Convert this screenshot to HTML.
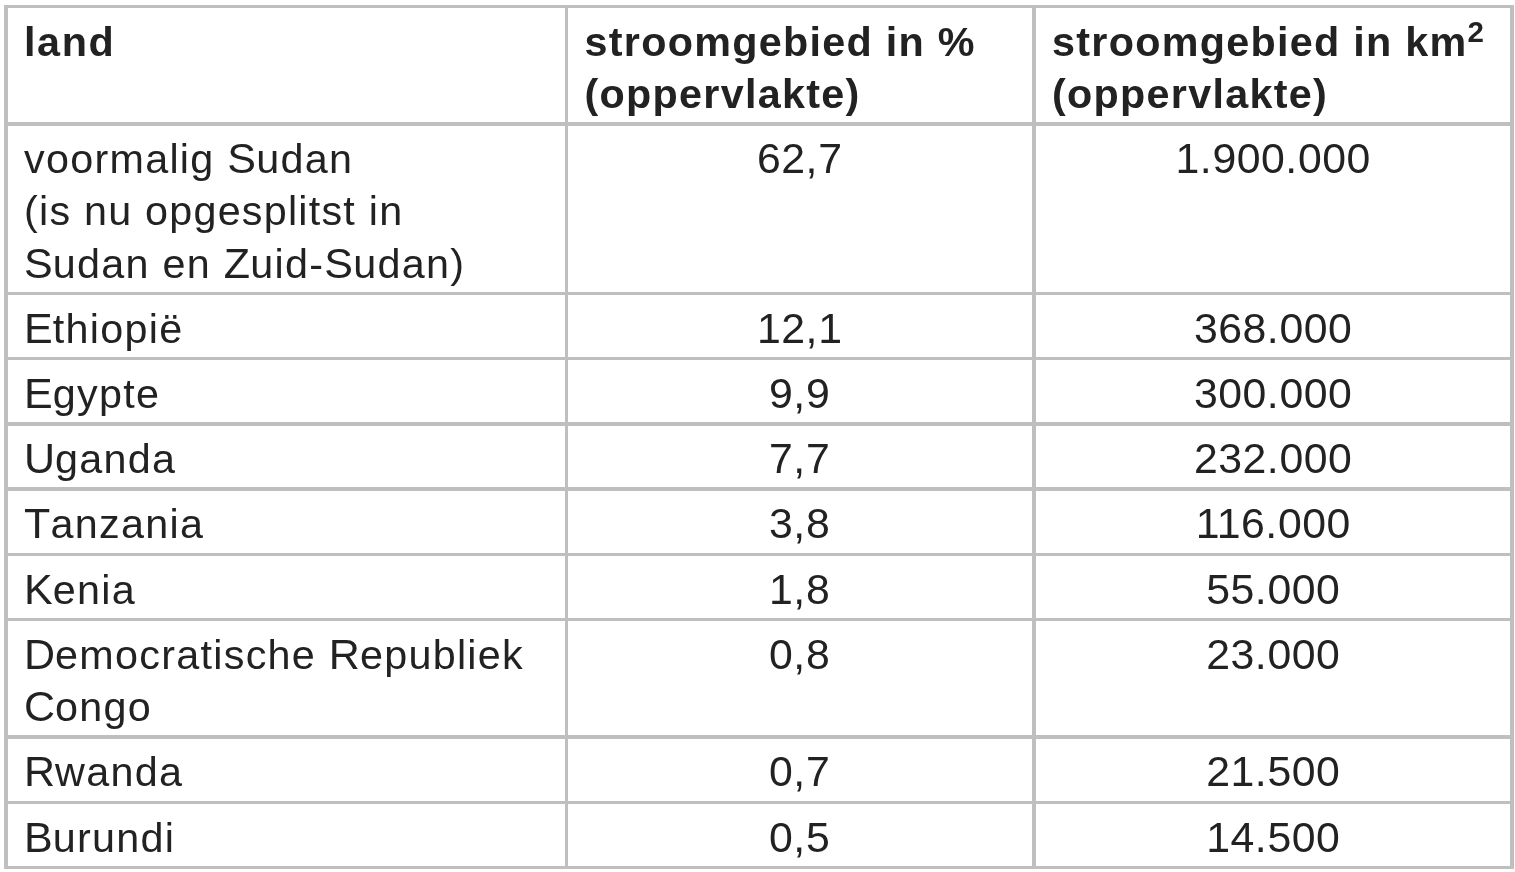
<!DOCTYPE html>
<html><head><meta charset="utf-8"><title>stroomgebied</title><style>
html,body{margin:0;padding:0;background:#fff;}
body{width:1515px;height:872px;position:relative;overflow:hidden;font-family:"Liberation Sans",sans-serif;font-size:41.3px;color:#222222;}
#tx{position:absolute;left:0;top:0;width:1515px;height:872px;will-change:transform;}
.h{position:absolute;left:4px;width:1510px;background:#bfbfbf;}
.v{position:absolute;top:5px;height:864px;background:#bfbfbf;}
.t{position:absolute;white-space:nowrap;line-height:50px;height:50px;letter-spacing:1.28px;}
.b{font-weight:bold;}
.c{text-align:center;font-size:42.8px;letter-spacing:0.45px;}
.k{font-size:43px;line-height:0;}
sup{font-size:29.5px;line-height:0;position:relative;top:-14px;vertical-align:baseline;}
</style></head><body>
<div class="h" style="top:5px;height:3px"></div>
<div class="h" style="top:122px;height:4px"></div>
<div class="h" style="top:292px;height:3px"></div>
<div class="h" style="top:357px;height:3px"></div>
<div class="h" style="top:422px;height:4px"></div>
<div class="h" style="top:487px;height:4px"></div>
<div class="h" style="top:553px;height:3px"></div>
<div class="h" style="top:618px;height:3px"></div>
<div class="h" style="top:735px;height:4px"></div>
<div class="h" style="top:801px;height:3px"></div>
<div class="h" style="top:866px;height:3px"></div>
<div class="v" style="left:4px;width:4px"></div>
<div class="v" style="left:565px;width:3px"></div>
<div class="v" style="left:1032px;width:4px"></div>
<div class="v" style="left:1510px;width:4px"></div>
<div id="tx">
<div class="t b" style="left:24px;top:17px;letter-spacing:1.65px;">land</div>
<div class="t b" style="left:584.5px;top:17px;">stroomgebied in %</div>
<div class="t b" style="left:584.5px;top:69px;">(oppervlakte)</div>
<div class="t b" style="left:1052px;top:17px;">stroomgebied in km<sup>2</sup></div>
<div class="t b" style="left:1052px;top:69px;">(oppervlakte)</div>
<div class="t " style="left:24px;top:134px;">voormalig <span class="k" style="letter-spacing:0.15px">S</span>udan</div>
<div class="t " style="left:24px;top:186px;letter-spacing:1.23px;">(is nu opgesplitst in</div>
<div class="t " style="left:24px;top:239px;"><span class="k" style="letter-spacing:0.15px">S</span>udan en <span class="k" style="letter-spacing:0.24px">Z</span>uid-<span class="k" style="letter-spacing:0.15px">S</span>udan)</div>
<div class="t c" style="left:599.725px;top:133px;width:400px;">62<span style="letter-spacing:0.86px">,</span>7</div>
<div class="t c" style="left:1073.22px;top:133px;width:400px;">1<span style="letter-spacing:0.86px">.</span>900<span style="letter-spacing:0.86px">.</span>000</div>
<div class="t " style="left:24px;top:304px;"><span class="k" style="letter-spacing:0.15px">E</span>thiopi&euml;</div>
<div class="t c" style="left:599.725px;top:303px;width:400px;">12<span style="letter-spacing:0.86px">,</span>1</div>
<div class="t c" style="left:1073.22px;top:303px;width:400px;">368<span style="letter-spacing:0.86px">.</span>000</div>
<div class="t " style="left:24px;top:369px;"><span class="k" style="letter-spacing:0.15px">E</span>gypte</div>
<div class="t c" style="left:599.725px;top:368px;width:400px;">9<span style="letter-spacing:0.86px">,</span>9</div>
<div class="t c" style="left:1073.22px;top:368px;width:400px;">300<span style="letter-spacing:0.86px">.</span>000</div>
<div class="t " style="left:24px;top:434px;"><span class="k" style="letter-spacing:0.05px">U</span>ganda</div>
<div class="t c" style="left:599.725px;top:433px;width:400px;">7<span style="letter-spacing:0.86px">,</span>7</div>
<div class="t c" style="left:1073.22px;top:433px;width:400px;">232<span style="letter-spacing:0.86px">.</span>000</div>
<div class="t " style="left:24px;top:499px;"><span class="k" style="letter-spacing:0.24px">T</span>anzania</div>
<div class="t c" style="left:599.725px;top:498px;width:400px;">3<span style="letter-spacing:0.86px">,</span>8</div>
<div class="t c" style="left:1073.22px;top:498px;width:400px;">116<span style="letter-spacing:0.86px">.</span>000</div>
<div class="t " style="left:24px;top:565px;"><span class="k" style="letter-spacing:0.15px">K</span>enia</div>
<div class="t c" style="left:599.725px;top:564px;width:400px;">1<span style="letter-spacing:0.86px">,</span>8</div>
<div class="t c" style="left:1073.22px;top:564px;width:400px;">55<span style="letter-spacing:0.86px">.</span>000</div>
<div class="t " style="left:24px;top:630px;"><span class="k" style="letter-spacing:0.05px">D</span>emocratische <span class="k" style="letter-spacing:0.05px">R</span>epubliek</div>
<div class="t c" style="left:599.725px;top:629px;width:400px;">0<span style="letter-spacing:0.86px">,</span>8</div>
<div class="t c" style="left:1073.22px;top:629px;width:400px;">23<span style="letter-spacing:0.86px">.</span>000</div>
<div class="t " style="left:24px;top:747px;"><span class="k" style="letter-spacing:0.05px">R</span>wanda</div>
<div class="t c" style="left:599.725px;top:746px;width:400px;">0<span style="letter-spacing:0.86px">,</span>7</div>
<div class="t c" style="left:1073.22px;top:746px;width:400px;">21<span style="letter-spacing:0.86px">.</span>500</div>
<div class="t " style="left:24px;top:813px;"><span class="k" style="letter-spacing:0.15px">B</span>urundi</div>
<div class="t c" style="left:599.725px;top:812px;width:400px;">0<span style="letter-spacing:0.86px">,</span>5</div>
<div class="t c" style="left:1073.22px;top:812px;width:400px;">14<span style="letter-spacing:0.86px">.</span>500</div>
<div class="t " style="left:24px;top:682px;"><span class="k" style="letter-spacing:0.05px">C</span>ongo</div>
</div>
</body></html>
